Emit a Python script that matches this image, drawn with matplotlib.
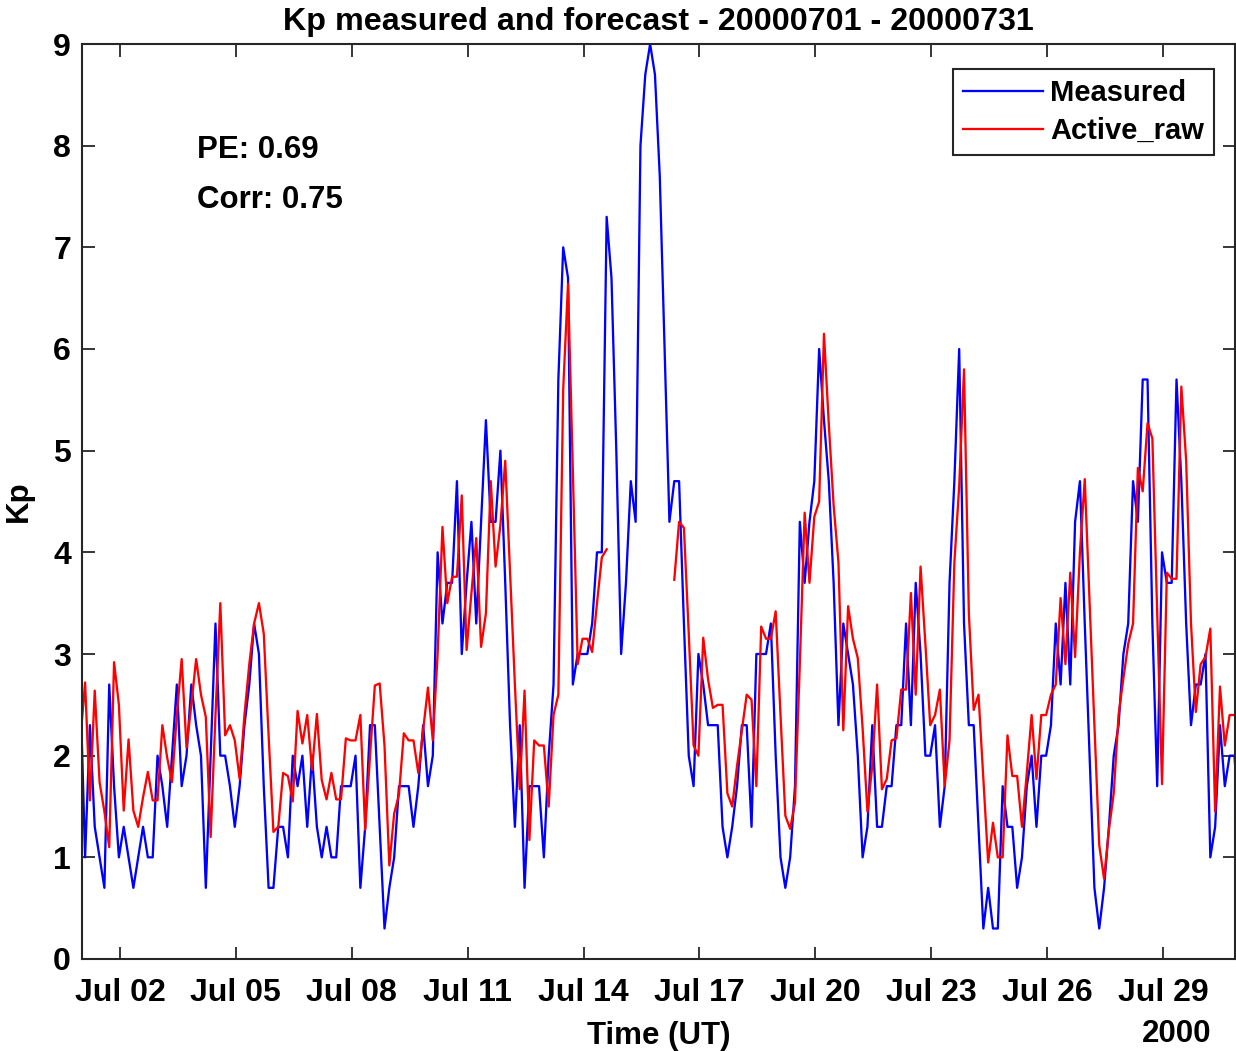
"""Plot measured 3-hourly Kp against the Active_raw forecast for July 2000"""
import numpy as np
import matplotlib.pyplot as plt
import matplotlib.dates as mdates

plt.rcParams['font.family'] = ['Liberation Sans', 'DejaVu Sans']
plt.rcParams['font.weight'] = 'bold'

# 3-hourly Kp values, 8 per day (stamps run 40 min ahead of the synoptic hours)
kp_measured = [
    2.7, 1.0, 2.3, 1.3, 1.0, 0.7, 2.7, 1.7,   # Jul 01
    1.0, 1.3, 1.0, 0.7, 1.0, 1.3, 1.0, 1.0,   # Jul 02
    2.0, 1.7, 1.3, 2.0, 2.7, 1.7, 2.0, 2.7,   # Jul 03
    2.3, 2.0, 0.7, 2.0, 3.3, 2.0, 2.0, 1.7,   # Jul 04
    1.3, 1.7, 2.3, 2.7, 3.3, 3.0, 1.7, 0.7,   # Jul 05
    0.7, 1.3, 1.3, 1.0, 2.0, 1.7, 2.0, 1.3,   # Jul 06
    2.0, 1.3, 1.0, 1.3, 1.0, 1.0, 1.7, 1.7,   # Jul 07
    1.7, 2.0, 0.7, 1.3, 2.3, 2.3, 1.3, 0.3,   # Jul 08
    0.7, 1.0, 1.7, 1.7, 1.7, 1.3, 1.7, 2.3,   # Jul 09
    1.7, 2.0, 4.0, 3.3, 3.7, 3.7, 4.7, 3.0,   # Jul 10
    3.7, 4.3, 3.3, 4.3, 5.3, 4.3, 4.3, 5.0,   # Jul 11
    3.7, 2.3, 1.3, 2.3, 0.7, 1.7, 1.7, 1.7,   # Jul 12
    1.0, 2.0, 2.7, 5.7, 7.0, 6.7, 2.7, 3.0,   # Jul 13
    3.0, 3.0, 3.3, 4.0, 4.0, 7.3, 6.7, 5.0,   # Jul 14
    3.0, 3.7, 4.7, 4.3, 8.0, 8.7, 9.0, 8.7,   # Jul 15
    7.7, 6.0, 4.3, 4.7, 4.7, 3.3, 2.0, 1.7,   # Jul 16
    3.0, 2.7, 2.3, 2.3, 2.3, 1.3, 1.0, 1.3,   # Jul 17
    1.7, 2.3, 2.3, 1.3, 3.0, 3.0, 3.0, 3.3,   # Jul 18
    2.0, 1.0, 0.7, 1.0, 1.7, 4.3, 3.7, 4.3,   # Jul 19
    4.7, 6.0, 5.3, 4.7, 3.7, 2.3, 3.3, 3.0,   # Jul 20
    2.7, 2.0, 1.0, 1.3, 2.3, 1.3, 1.3, 1.7,   # Jul 21
    1.7, 2.3, 2.3, 3.3, 2.3, 3.7, 3.0, 2.0,   # Jul 22
    2.0, 2.3, 1.3, 1.7, 3.7, 4.7, 6.0, 3.3,   # Jul 23
    2.3, 2.3, 1.3, 0.3, 0.7, 0.3, 0.3, 1.7,   # Jul 24
    1.3, 1.3, 0.7, 1.0, 1.7, 2.0, 1.3, 2.0,   # Jul 25
    2.0, 2.3, 3.3, 2.7, 3.7, 2.7, 4.3, 4.7,   # Jul 26
    3.3, 2.0, 0.7, 0.3, 0.7, 1.3, 2.0, 2.3,   # Jul 27
    3.0, 3.3, 4.7, 4.3, 5.7, 5.7, 3.3, 1.7,   # Jul 28
    4.0, 3.7, 3.7, 5.7, 4.7, 3.3, 2.3, 2.7,   # Jul 29
    2.7, 3.0, 1.0, 1.3, 2.3, 1.7, 2.0, 2.0,   # Jul 30
    1.3,                                      # Jul 31
]

# forecast (nan where the model gave no output)
kp_active_raw = [
    2.15, 2.72, 1.56, 2.64, 1.74, 1.45, 1.10, 2.92,
    2.50, 1.46, 2.16, 1.46, 1.30, 1.59, 1.84, 1.56,
    1.56, 2.30, 1.98, 1.74, 2.40, 2.95, 2.08, 2.50,
    2.95, 2.60, 2.38, 1.20, 2.40, 3.50, 2.20, 2.30,
    2.15, 1.77, 2.40, 2.90, 3.30, 3.50, 3.20, 2.20,
    1.25, 1.30, 1.83, 1.80, 1.55, 2.44, 2.12, 2.40,
    1.86, 2.41, 1.76, 1.57, 1.83, 1.57, 1.57, 2.17,
    2.15, 2.15, 2.40, 1.27, 2.00, 2.69, 2.71, 2.10,
    0.92, 1.43, 1.62, 2.22, 2.15, 2.15, 1.83, 2.25,
    2.67, 2.15, 3.00, 4.25, 3.50, 3.76, 3.76, 4.56,
    3.04, 3.60, 4.14, 3.07, 3.40, 4.70, 3.86, 4.27,
    4.90, 3.80, 2.70, 1.67, 2.64, 1.17, 2.15, 2.10,
    2.10, 1.50, 2.40, 2.60, 5.60, 6.64, 4.80, 2.90,
    3.15, 3.15, 3.02, 3.50, 3.95, 4.03, np.nan, np.nan,
    np.nan, np.nan, np.nan, np.nan, np.nan, np.nan, np.nan, np.nan,
    np.nan, np.nan, np.nan, 3.73, 4.30, 4.24, 3.20, 2.10,
    2.00, 3.16, 2.75, 2.47, 2.50, 2.50, 1.63, 1.50,
    1.90, 2.25, 2.60, 2.55, 1.70, 3.27, 3.15, 3.15,
    3.42, 2.40, 1.41, 1.28, 1.54, 2.90, 4.39, 3.70,
    4.35, 4.50, 6.15, 5.26, 4.46, 3.90, 2.25, 3.47,
    3.15, 2.96, 2.27, 1.45, 1.90, 2.70, 1.67, 1.77,
    2.15, 2.17, 2.65, 2.65, 3.60, 2.60, 3.86, 3.10,
    2.30, 2.40, 2.65, 1.70, 2.15, 3.90, 4.65, 5.80,
    3.40, 2.45, 2.60, 1.77, 0.95, 1.34, 1.00, 1.00,
    2.20, 1.80, 1.80, 1.30, 1.83, 2.40, 1.77, 2.40,
    2.40, 2.60, 2.70, 3.55, 2.90, 3.80, 2.97, 4.00,
    4.72, 3.50, 2.30, 1.12, 0.79, 1.27, 1.63, 2.40,
    2.76, 3.10, 3.30, 4.83, 4.60, 5.27, 5.12, 3.40,
    1.72, 3.80, 3.74, 3.74, 5.63, 4.90, 3.30, 2.43,
    2.90, 2.97, 3.25, 1.45, 2.68, 2.10, 2.40, 2.40,
    2.40,
]

pe = 0.69
corr = 0.75

times = np.datetime64('2000-06-30T23:20') + np.arange(len(kp_measured)) * np.timedelta64(3, 'h')

fig = plt.figure(figsize=(12.36, 10.51), dpi=100)
ax = fig.add_axes([82/1236, 92/1051, 1153/1236, 915/1051])

ax.plot(times, kp_measured, color='#0000ff', lw=1.65, label='Measured')
ax.plot(times, kp_active_raw, color='#ff0000', lw=1.65, label='Active_raw')

ax.set_xlim(np.datetime64('2000-07-01T00:25'), np.datetime64('2000-07-30T20:40'))
ax.set_ylim(0, 9)
ax.set_yticks(range(0, 10))
ax.xaxis.set_major_locator(mdates.DayLocator(bymonthday=range(2, 30, 3)))
ax.xaxis.set_major_formatter(mdates.DateFormatter('%b %d'))

# matlab-like box: inward ticks on all four sides
ax.tick_params(direction='in', length=9, width=1.3, top=True, right=True,
               labelsize=23, colors='#262626', labelcolor='black')
ax.tick_params(axis='x', pad=14)
ax.tick_params(axis='y', pad=8)
for side in ax.spines.values():
    side.set_color('#262626')
    side.set_linewidth(1.5)

ax.set_title('Kp measured and forecast - 20000701 - 20000731', fontsize=23.2,
             fontweight='bold', pad=10)
ax.set_ylabel('Kp', fontsize=22.5, fontweight='bold', labelpad=14)
ax.set_xlabel('Time (UT)', fontsize=22.5, fontweight='bold', labelpad=9)
fig.text(1211/1236, 1 - 1034/1051, '2000', fontsize=22.5, fontweight='bold',
         ha='right', va='center')

ax.text(0.0997, 0.884, f'PE: {pe:.2f}', transform=ax.transAxes, fontsize=22.5,
        fontweight='bold', va='center')
ax.text(0.0997, 0.829, f'Corr: {corr:.2f}', transform=ax.transAxes, fontsize=22.5,
        fontweight='bold', va='center')

leg = ax.legend(loc='upper right', bbox_to_anchor=(0.9818, 0.9727), borderaxespad=0,
                fontsize=21, handlelength=2.75, handletextpad=0.25, labelspacing=0.35,
                borderpad=0.34, fancybox=False, framealpha=1)
leg.get_frame().set_edgecolor('#262626')
leg.get_frame().set_linewidth(1.5)

plt.savefig('out.png', dpi=100)
